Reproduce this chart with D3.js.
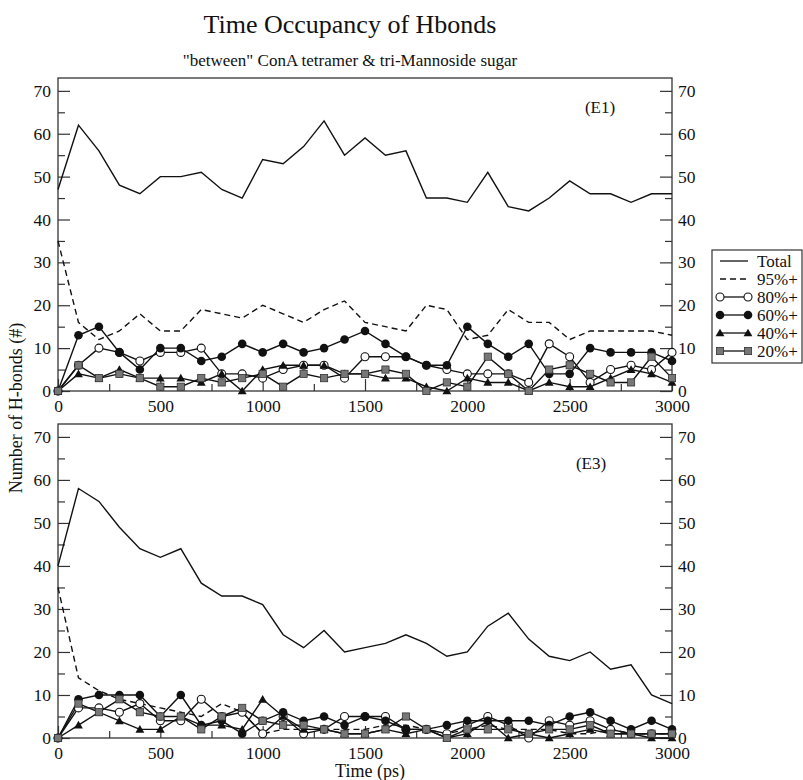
<!DOCTYPE html>
<html><head><meta charset="utf-8">
<script src="https://cdn.jsdelivr.net/npm/d3@7"></script>
<style>body{margin:0;background:#fff}svg{display:block}svg text{font-family:"Liberation Serif","Times New Roman",serif !important;fill:#111}</style>
</head><body><svg id="c" width="803" height="780"></svg>
<script>
const times = d3.range(0, 3001, 100);
const seriesNames = ["Total", "95%+", "80%+", "60%+", "40%+", "20%+"];
// Panel E1
const e1Total = [47,62,56,48,46,50,50,51,47,45,54,53,57,63,55,59,55,56,45,45,44,51,43,42,45,49,46,46,44,46,46];
const e1P95   = [35,16,12,14,18,14,14,19,18,17,20,18,16,19,21,16,15,14,20,19,12,13,19,16,16,12,14,14,14,14,13];
const e1P80   = [0,6,10,9,7,9,9,10,4,4,3,5,6,6,3,8,8,8,6,5,4,4,4,2,11,8,2,5,6,5,9];
const e1P60   = [0,13,15,9,5,10,10,7,8,11,9,11,9,10,12,14,11,8,6,6,15,11,8,11,4,4,10,9,9,9,7];
const e1P40   = [0,4,3,5,3,3,3,2,4,0,5,6,6,6,4,4,3,3,1,0,3,2,2,0,2,1,1,3,5,4,2];
const e1P20   = [0,6,3,4,3,1,1,3,2,3,4,1,4,3,4,4,5,4,0,2,1,8,4,0,5,6,4,2,2,8,3];
// Panel E3
const e3Total = [40,58,55,49,44,42,44,36,33,33,31,24,21,25,20,21,22,24,22,19,20,26,29,23,19,18,20,16,17,10,8];
const e3P95   = [35,14,11,9,8,7,6,5,8,6,1,2,2,2,2,2,3,3,2,1,2,3,2,2,2,1,1,2,1,1,1];
const e3P80   = [0,7,7,6,8,4,4,9,5,6,1,5,1,2,5,5,5,2,2,1,3,5,3,0,4,3,4,2,1,1,1];
const e3P60   = [0,9,10,10,10,5,10,3,4,1,4,6,4,5,3,5,4,2,2,3,4,4,4,4,3,5,6,4,2,4,2];
const e3P40   = [0,3,6,4,2,2,5,3,3,2,9,5,2,2,1,1,2,1,2,0,1,4,0,1,0,1,2,1,1,0,0];
const e3P20   = [0,8,6,9,6,5,5,2,5,7,4,3,3,2,1,1,2,5,2,0,2,2,2,1,2,2,3,1,1,1,1];
const xTicks = [0, 500, 1000, 1500, 2000, 2500, 3000];
const yTicks = [0, 10, 20, 30, 40, 50, 60, 70];
const panelLabels = ["(E1)", "(E3)"];
const titleText = "Time Occupancy of Hbonds";
const subtitleText = "\"between\" ConA tetramer & tri-Mannoside sugar";
const xLabel = "Time (ps)";
const yLabel = "Number of H-bonds (#)";

const FONT = "'Liberation Serif', 'Times New Roman', serif";
const svg = d3.select("#c");
const L = 58, R = 672;
const panels = [
  {top: 78, bottom: 391, data: [e1Total, e1P95, e1P80, e1P60, e1P40, e1P20], label: panelLabels[0], lx: 600, ly: 113},
  {top: 424, bottom: 738, data: [e3Total, e3P95, e3P80, e3P60, e3P40, e3P20], label: panelLabels[1], lx: 591, ly: 469}
];
const x = d3.scaleLinear().domain([0, 3000]).range([L, R]);
const styles = [
  {dash: null, marker: null},
  {dash: "6,4", marker: null},
  {dash: null, marker: "ocircle"},
  {dash: null, marker: "circle"},
  {dash: null, marker: "triangle"},
  {dash: null, marker: "square"}
];
function drawMarker(g, type, cx, cy) {
  if (type === "ocircle") g.append("circle").attr("cx", cx).attr("cy", cy).attr("r", 4).attr("fill", "#fff").attr("stroke", "#111").attr("stroke-width", 1.1);
  else if (type === "circle") g.append("circle").attr("cx", cx).attr("cy", cy).attr("r", 4.3).attr("fill", "#111");
  else if (type === "triangle") g.append("path").attr("d", d3.symbol(d3.symbolTriangle, 34)()).attr("transform", `translate(${cx},${cy + 0.8})`).attr("fill", "#111");
  else if (type === "square") g.append("rect").attr("x", cx - 3.6).attr("y", cy - 3.6).attr("width", 7.2).attr("height", 7.2).attr("fill", "#777").attr("stroke", "#333").attr("stroke-width", 0.8);
}
const fmt = d3.format("d");

panels.forEach((p, pi) => {
  const y = d3.scaleLinear().domain([0, 73]).range([p.bottom, p.top]);
  const g = svg.append("g");
  const minorY = d3.range(5, 71, 10);
  const minorX = [250, 750, 1250, 1750, 2250, 2750];
  g.append("g").attr("transform", `translate(${L},0)`).call(d3.axisLeft(y).tickValues(yTicks).tickFormat(fmt).tickSizeInner(-12).tickSizeOuter(0).tickPadding(7));
  g.append("g").attr("transform", `translate(${L},0)`).call(d3.axisLeft(y).tickValues(minorY).tickSizeInner(-7).tickSizeOuter(0).tickFormat(""));
  g.append("g").attr("transform", `translate(${R},0)`).call(d3.axisRight(y).tickValues(yTicks).tickFormat(fmt).tickSizeInner(-12).tickSizeOuter(0).tickPadding(6));
  g.append("g").attr("transform", `translate(${R},0)`).call(d3.axisRight(y).tickValues(minorY).tickSizeInner(-7).tickSizeOuter(0).tickFormat(""));
  const axB = g.append("g").attr("transform", `translate(0,${p.bottom})`).call(d3.axisBottom(x).tickValues(xTicks).tickFormat(fmt).tickSizeInner(-12).tickSizeOuter(0).tickPadding(4));
  g.append("g").attr("transform", `translate(0,${p.bottom})`).call(d3.axisBottom(x).tickValues(minorX).tickSizeInner(-7).tickSizeOuter(0).tickFormat(""));
  g.selectAll("g").attr("font-family", FONT);
  g.selectAll(".domain").remove();
  g.selectAll(".tick line").attr("stroke", "#333").attr("stroke-width", 1.2);
  g.selectAll(".tick text").attr("font-size", 17.5).attr("fill", "#111").style("font-family", FONT);
  axB.selectAll(".tick text").attr("dy", "0.95em");
  g.append("rect").attr("x", L).attr("y", p.top).attr("width", R - L).attr("height", p.bottom - p.top)
    .attr("fill", "none").attr("stroke", "#333").attr("stroke-width", 1.3);
  g.append("text").attr("x", p.lx).attr("y", p.ly).attr("text-anchor", "middle").attr("font-size", 17).style("font-family", FONT).text(p.label);
  const line = d3.line().x((d, i) => x(times[i])).y(d => y(d));
  p.data.forEach((vals, si) => {
    const st = styles[si];
    g.append("path").datum(vals).attr("d", line).attr("fill", "none").attr("stroke", "#111")
      .attr("stroke-width", 1.4).attr("stroke-dasharray", st.dash);
  });
  p.data.forEach((vals, si) => {
    const st = styles[si];
    if (!st.marker) return;
    const mg = g.append("g");
    vals.forEach((v, i) => drawMarker(mg, st.marker, x(times[i]), y(v)));
  });
});

svg.append("text").attr("x", 350).attr("y", 33).attr("text-anchor", "middle").attr("font-size", 26).style("font-family", FONT).text(titleText);
svg.append("text").attr("x", 350).attr("y", 66).attr("text-anchor", "middle").attr("font-size", 17).style("font-family", FONT).text(subtitleText);
svg.append("text").attr("x", 370).attr("y", 777).attr("text-anchor", "middle").attr("font-size", 18).style("font-family", FONT).text(xLabel);
svg.append("text").attr("transform", "translate(22,408) rotate(-90)").attr("text-anchor", "middle").attr("font-size", 18).style("font-family", FONT).text(yLabel);

// legend
const lg = svg.append("g");
lg.append("rect").attr("x", 712).attr("y", 250).attr("width", 90).attr("height", 113).attr("fill", "#fff").attr("stroke", "#333").attr("stroke-width", 1.2);
seriesNames.forEach((name, i) => {
  const yy = 261 + i * 18;
  lg.append("line").attr("x1", 720).attr("x2", 748).attr("y1", yy).attr("y2", yy).attr("stroke", "#111").attr("stroke-width", 1.3).attr("stroke-dasharray", styles[i].dash);
  if (styles[i].marker) { drawMarker(lg, styles[i].marker, 720, yy); drawMarker(lg, styles[i].marker, 748, yy); }
  lg.append("text").attr("x", 757).attr("y", yy).attr("dy", "0.35em").attr("font-size", 17).style("font-family", FONT).text(name);
});
</script></body></html>
